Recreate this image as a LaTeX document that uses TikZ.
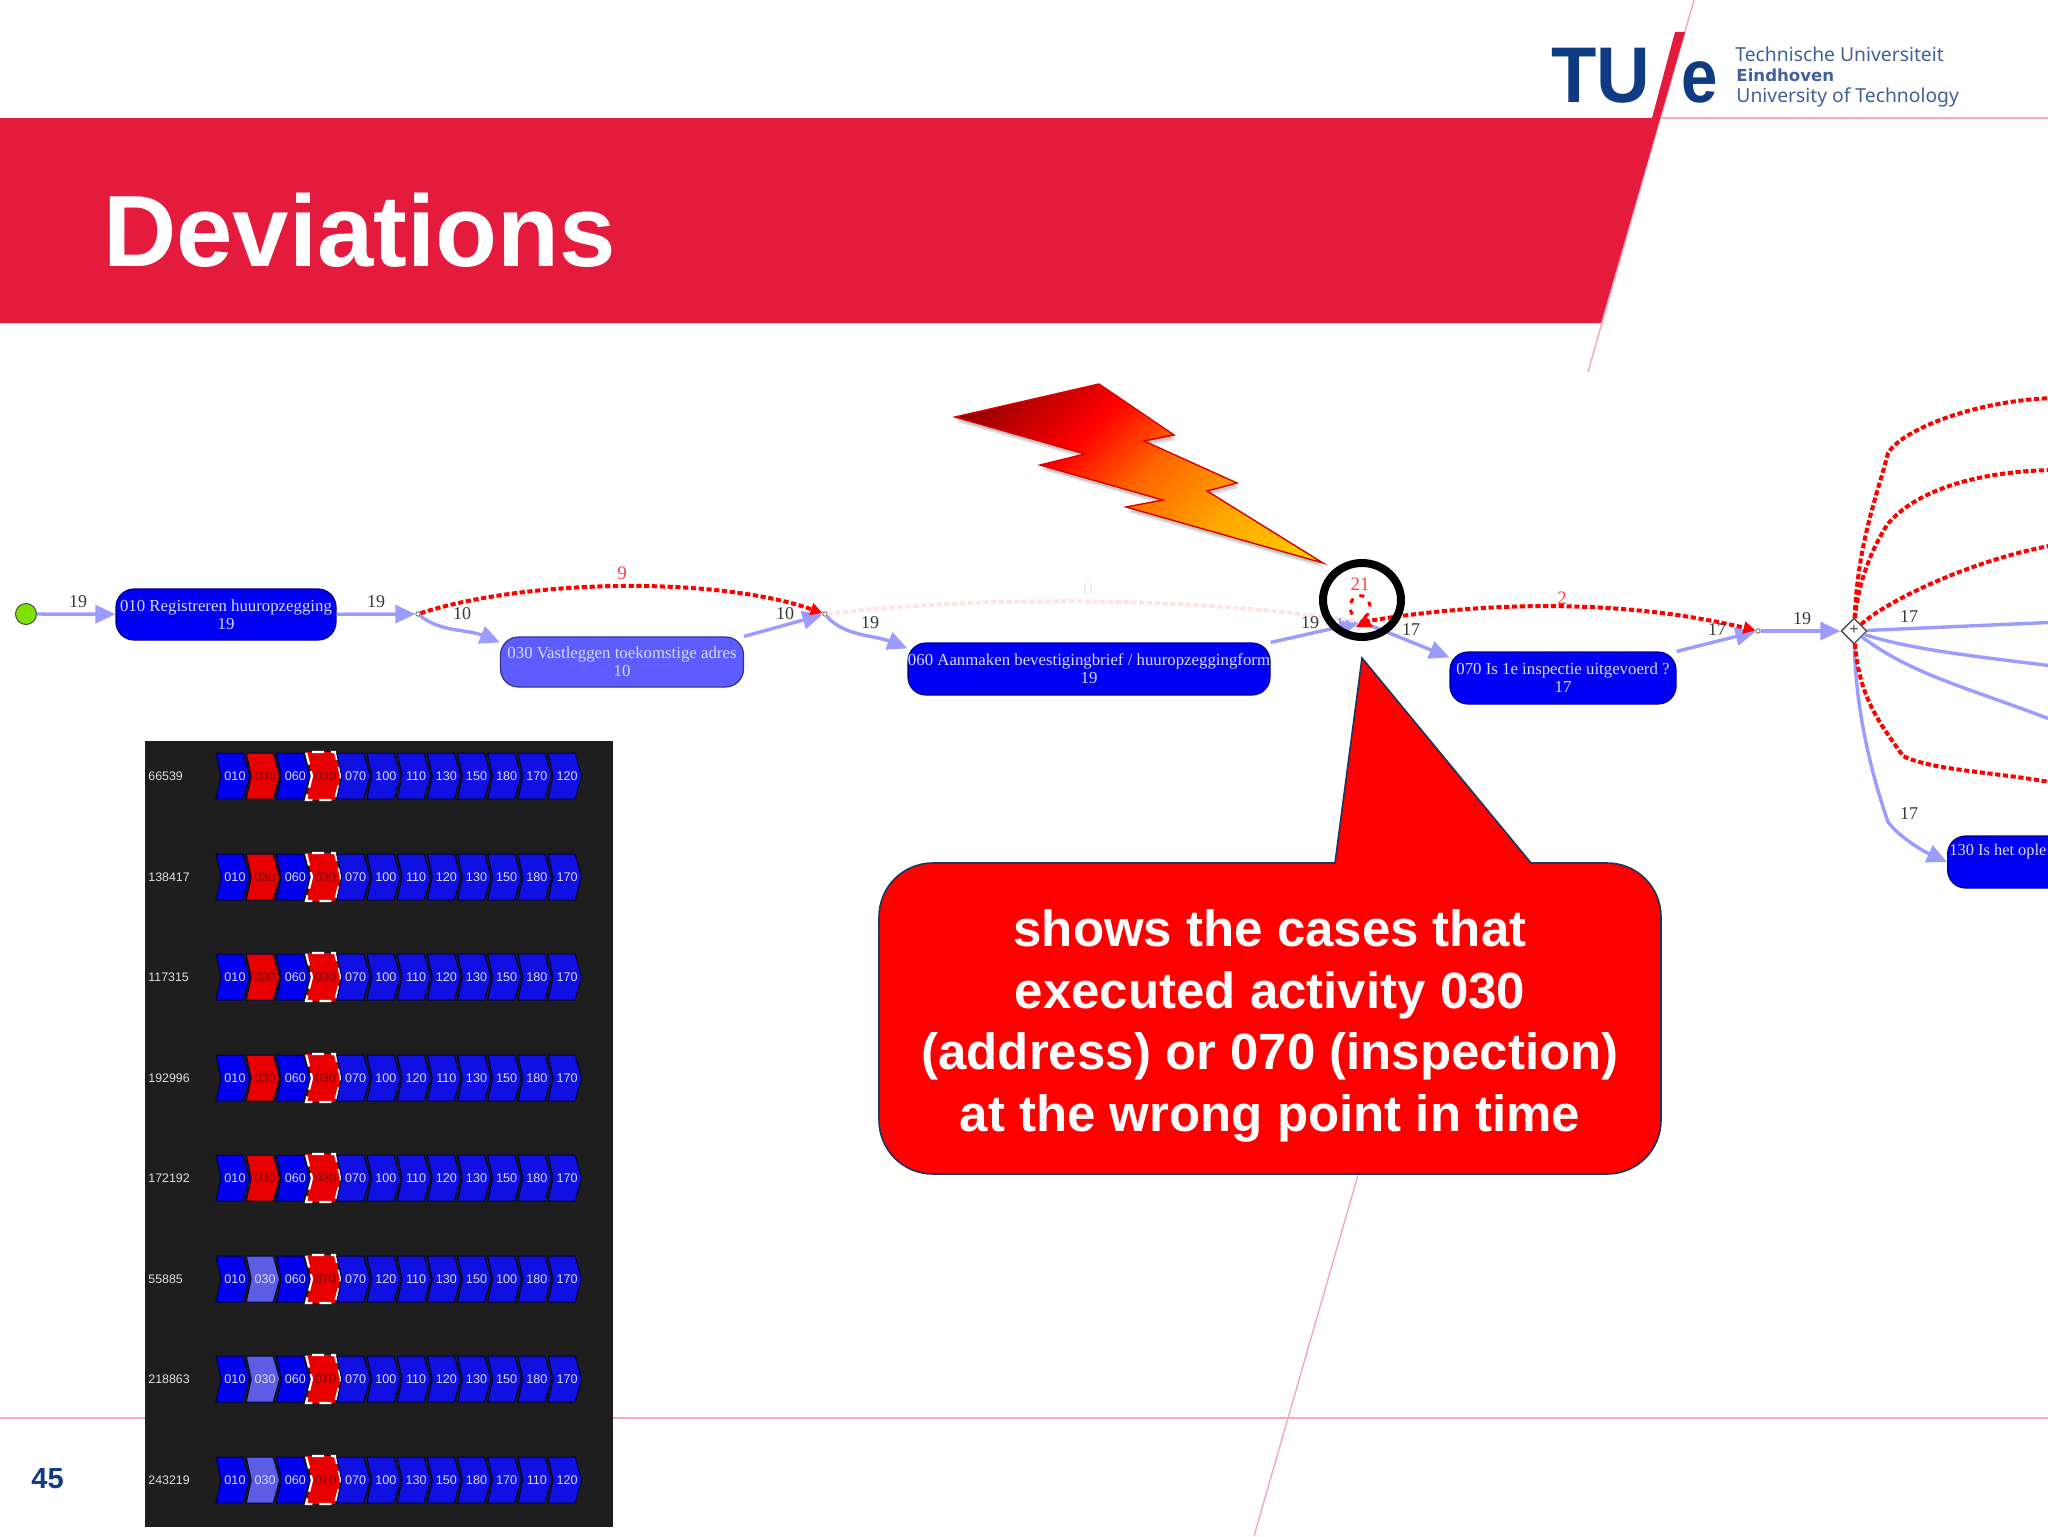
\documentclass[tikz,border=0pt]{standalone}
\usepackage{fontspec}
\setmainfont{Liberation Sans}
\newfontfamily\tms{Liberation Serif}
\newfontfamily\lgf{Noto Sans}
\newfontfamily\lgfb{DejaVu Sans}
\usetikzlibrary{arrows.meta,shapes.geometric}
\definecolor{tuered}{HTML}{E41B3C}
\definecolor{tuepink}{HTML}{F2A9B8}
\definecolor{tueblue}{HTML}{0F3B82}
\definecolor{tuetext}{HTML}{41609C}
\definecolor{edgeblue}{HTML}{9C9CFF}
\definecolor{nodeblue}{HTML}{0000F4}
\definecolor{nodelight}{HTML}{5C5CFF}
\definecolor{nodetext}{HTML}{DADAFF}
\definecolor{panel}{HTML}{1E1E1E}
\definecolor{chevA}{HTML}{0000EE}
\definecolor{chevB}{HTML}{1010E2}
\definecolor{chevL}{HTML}{5C5CE4}
\definecolor{chevR}{HTML}{E80000}
\definecolor{callred}{HTML}{FF0000}
\definecolor{callline}{HTML}{17375E}
\definecolor{fadered}{HTML}{FFE4E4}
\definecolor{startgreen}{HTML}{80E000}
\pgfdeclareverticalshading{boltshade}{100bp}{rgb(0bp)=(1,0.82,0); rgb(25bp)=(1,0.82,0); rgb(38.5bp)=(1,0.66,0); rgb(51bp)=(1,0.4,0); rgb(60.7bp)=(1,0,0); rgb(75bp)=(0.55,0,0); rgb(100bp)=(0.55,0,0)}
\tikzset{
  x=0.5pt,y=-0.5pt,
  procnode/.style={draw=#1!55!black,fill=#1,rounded corners=9pt,line width=.6pt,inner sep=0pt,text=nodetext,align=center,
     font=\tms\fontsize{8.4}{8.9}\selectfont},
  flowedge/.style={draw=edgeblue,line width=1.7pt,-{Triangle[length=10pt,width=9pt,fill=edgeblue]}},
  flowplain/.style={draw=edgeblue,line width=1.7pt},
  devedge/.style={draw=red,line width=2pt,dash pattern=on 2.6pt off 1.3pt},
  devarrow/.style={devedge,-{Triangle[length=6pt,width=6pt,fill=red]}},
  fadeedge/.style={draw=fadered,line width=2pt,dash pattern=on 2.6pt off 1.3pt},
  junct/.style={circle,draw=black!60,fill=white,inner sep=0pt,minimum size=2.2pt,line width=.4pt},
  elabel/.style={text=black!78,inner sep=0pt,font=\tms\fontsize{9}{9}\selectfont},
  rlabel/.style={text=red!75!white,inner sep=0pt,font=\tms\fontsize{9.5}{9.5}\selectfont},
  chevtext/.style={inner sep=0pt,font=\fontsize{6.3}{6.3}\selectfont,text=nodetext},
  chevredtext/.style={inner sep=0pt,font=\fontsize{6.3}{6.3}\selectfont,text=red!50!black},
  caselabel/.style={inner sep=0pt,anchor=west,font=\fontsize{6.2}{6.2}\selectfont,text=black!12},
  chevline/.style={draw=black!80!blue,line width=.5pt},
  tuepath/.style={draw=tuepink,line width=.7pt},
  logoline/.style={inner sep=0pt,anchor=base west,text=tuetext,font=\lgf\fontsize{9.65}{9.65}\selectfont}
}
\newcommand\chevshape{(-19,-23) -- (8,-23) -- (14.5,0) -- (8,23) -- (-19,23) -- (-14,0) -- cycle}
\newcommand\chevcell[5]{% cx, cy, fill, text style, label
  \begin{scope}[shift={(#1,#2)}]
    \path[chevline,fill=#3] \chevshape;
    \node[#4] (chevlab#5x#1) at (0,0) {#5};
  \end{scope}}
\newcommand\caserow[5]{% y, id, 2nd fill, 4th label, remaining labels
  \node[caselabel] (case#2) at (148,#1) {#2};
  \chevcell{235}{#1}{chevA}{chevtext}{010}
  \ifx#3r\chevcell{265.2}{#1}{chevR}{chevredtext}{030}\else\chevcell{265.2}{#1}{chevL}{chevtext}{030}\fi
  \chevcell{295.3}{#1}{chevA}{chevtext}{060}
  \begin{scope}[shift={(325.5,#1)}]
    \path[fill=chevR] (-19.5,-24) -- (9.5,-24) -- (15.5,0) -- (9.5,24) -- (-19.5,24) -- (-13.5,0) -- cycle;
    \draw[white,line width=1.1pt,dash pattern=on 6pt off 3.5pt] (-13.5,0) -- (-19.5,24) -- (9.5,24) -- (15.5,0) -- (9.5,-24) -- (-19.5,-24) -- cycle;
    \node[chevredtext] (red#2) at (0,0) {#4};
  \end{scope}
  \foreach \lab [count=\k from 0] in {#5}{
    \pgfmathsetmacro\cx{355.7+30.2*\k}
    \chevcell{\cx}{#1}{chevB}{chevtext}{\lab}
  }}
\begin{document}
\begin{tikzpicture}
\useasboundingbox (0,0) rectangle (2048,1536);
\clip (0,0) rectangle (2048,1536);
\fill[white] (0,0) rectangle (2048,1536);

% template lines
\draw[tuepath] (1660,118) -- (2048,118);
\draw[tuepath] (0,1418) -- (2048,1418);
\draw[tuepath] (1694,0) -- (1588,372);
\draw[tuepath] (1358,1175) -- (1254,1536);
% banner
\fill[tuered] (0,118) -- (1652,118) -- (1675,32) -- (1685,32) -- (1601,323) -- (0,323) -- cycle;
\node[anchor=base west,inner sep=0pt,text=white,font=\bfseries\fontsize{50.7}{50.7}\selectfont] (title) at (103,266) {Deviations};
% logo
\node[anchor=base west,inner sep=0pt,text=tueblue,xscale=.94,font=\bfseries\fontsize{39.5}{39.5}\selectfont] (tu) at (1551,103) {TU};
\node[anchor=base west,inner sep=0pt,text=tueblue,xscale=.86,font=\bfseries\fontsize{38}{38}\selectfont] (e) at (1681,103) {e};
\node[logoline] (l1) at (1735,62) {Technische Universiteit};
\node[logoline,font=\lgfb\bfseries\fontsize{8.3}{8.3}\selectfont] (l2) at (1736,82) {Eindhoven};
\node[logoline] (l3) at (1736,103) {University of Technology};
\node[anchor=base west,inner sep=0pt,text=tueblue,font=\bfseries\fontsize{14.5}{14.5}\selectfont] (pageno) at (31,1488) {45};

% bolt
\newcommand\boltshape{(955,417) -- (1099,384) -- (1174,435) -- (1144,441) -- (1237,483) -- (1207,491) -- (1323,563) -- (1126,507) -- (1163,500) -- (1040,465) -- (1085,454) -- cycle}
\fill[black,opacity=.12,shift={(2,5)}] \boltshape;
\fill[black,opacity=.12,shift={(1,3)}] \boltshape;
\begin{scope}
  \clip \boltshape;
  \shade[shading=boltshade,shading angle=45] (957,308) rectangle (1321,672);
\end{scope}
\draw[red!85!black,line width=.7pt] \boltshape;

% process nodes
\node[circle,draw=black!70,fill=startgreen,minimum size=10.5pt,inner sep=0pt,line width=.5pt] (start) at (26,614) {};
\node[procnode=nodeblue,minimum width=110pt,minimum height=25.5pt] (n010) at (226,614.5) {010 Registreren huuropzegging\\19};
\node[procnode=nodelight,minimum width=121.5pt,minimum height=25pt] (n030) at (622,662) {030 Vastleggen toekomstige adres\\10};
\node[procnode=nodeblue,minimum width=180.5pt,minimum height=26pt] (n060) at (1089,669) {060 Aanmaken bevestigingbrief / huuropzeggingform\\19};
\node[procnode=nodeblue,minimum width=113pt,minimum height=26pt] (n070) at (1563,678) {070 Is 1e inspectie uitgevoerd ?\\17};
\node[procnode=nodeblue,minimum width=100pt,minimum height=26pt,anchor=west] (n130) at (1947,862) {};
\node[inner sep=0pt,anchor=west,text=nodetext,font=\tms\fontsize{8.2}{8.9}\selectfont] (n130text) at (1949,852) {130 Is het ople};
\node[junct] (j1) at (418,614) {};
\node[junct] (j2) at (825,614) {};
\node[junct] (j3) at (1362,622) {};
\node[junct] (j4) at (1758,631) {};
\node[diamond,draw=black!70,fill=white,minimum size=13pt,inner sep=0pt,line width=.7pt] (gate) at (1854,631) {};
\node[inner sep=0pt,font=\fontsize{8}{8}\selectfont,text=black!70] (gateplus) at (1854,630) {+};

% off-page ends
\coordinate (o1) at (2060,398);
\coordinate (o2) at (2060,470);
\coordinate (o3) at (2060,544);
\coordinate (o4) at (2060,622);
\coordinate (o5) at (2060,667);
\coordinate (o6) at (2060,723);
\coordinate (o7) at (2060,784);

% connectors
\draw[flowedge] (start) -- (n010);
\draw[flowedge] (n010) -- (j1);
\draw[flowedge] (j1) .. controls +(22,18) and +(-32,-13) .. ([yshift=-3pt]n030.north west);
\draw[flowedge] (n030.north east) -- (j2);
\draw[flowedge] (j2) .. controls +(18,22) and +(-32,-13) .. ([yshift=-3pt]n060.north west);
\draw[flowedge] (n060.north east) -- (j3);
\draw[flowedge] (j3) -- ([yshift=-3pt]n070.north west);
\draw[flowedge] (n070.north east) -- (j4);
\draw[flowedge] (j4) -- (gate);
\draw[fadeedge] (j2) .. controls +(170,-19) and +(-170,-25) .. (j3);
\draw[devarrow] (j1) .. controls +(112,-36) and +(-105,-37) .. (j2);
\draw[devarrow] (j3) .. controls +(130,-22) and +(-130,-31) .. (j4);
\draw[red,line width=1.5pt,dash pattern=on 2.5pt off 3.5pt] (1365,617) arc[start angle=60,end angle=-250,x radius=10,y radius=11.5];
\fill[red] (1365,615) -- (1373,627) -- (1356,627) -- cycle;
\draw[flowplain] (gate) -- (o4);
\draw[flowplain] (gate) .. controls +(60,20) and +(-60,-8) .. (o5);
\draw[flowplain] (gate) .. controls +(60,45) and +(-90,-35) .. (o6);
\draw[flowedge] (gate) .. controls +(2,90) and +(-12,-35) .. (1888,822) .. controls +(12,16) and +(-22,-10) .. (n130.west);
\draw[devedge] (gate) .. controls +(4,-90) and +(-10,40) .. (1888,453) .. controls +(18,-28) and +(-70,0) .. (o1);
\draw[devedge] (gate) .. controls +(4,-50) and +(-14,22) .. (1887,525) .. controls +(28,-35) and +(-80,0) .. (o2);
\draw[devedge] (gate) .. controls +(30,-28) and +(-90,15) .. (o3);
\draw[devedge] (gate) .. controls +(5,65) and +(-25,-35) .. (1903,756) .. controls +(30,15) and +(-60,-12) .. (o7);

% edge labels
\node[elabel] (e1) at (78,602) {19};
\node[elabel] (e2) at (376,602) {19};
\node[elabel] (e3) at (462,614) {10};
\node[rlabel] (e4) at (622,573) {9};
\node[elabel] (e5) at (785,614) {10};
\node[elabel] (e6) at (870,623) {19};
\node[rlabel,text=fadered] (e7) at (1088,589) {0};
\node[elabel] (e8) at (1310,623) {19};
\node[rlabel] (e9) at (1360,584) {21};
\node[elabel] (e10) at (1411,630) {17};
\node[rlabel] (e11) at (1562,598) {2};
\node[elabel] (e12) at (1717,630) {17};
\node[elabel] (e13) at (1802,619) {19};
\node[elabel] (e14) at (1909,617) {17};
\node[elabel] (e15) at (1909,814) {17};

% highlight ring
\draw[black,line width=4pt] (1362,600) ellipse [x radius=39,y radius=37];

% callout
\path[draw=callline,line width=.8pt,fill=callred]
  (933,863) -- (1335,863) -- (1362,658) -- (1531,863) -- (1607,863)
  .. controls (1637,863) and (1661,887) .. (1661,917) -- (1661,1120)
  .. controls (1661,1150) and (1637,1174) .. (1607,1174) -- (933,1174)
  .. controls (903,1174) and (879,1150) .. (879,1120) -- (879,917)
  .. controls (879,887) and (903,863) .. (933,863) -- cycle;
\node[inner sep=0pt,text=white,align=center,font=\bfseries\fontsize{25.5}{30.7}\selectfont] (calltext) at (1270,1026)
  {shows the cases that\\executed activity 030\\(address) or 070 (inspection)\\at the wrong point in time};

% trace panel
\fill[panel] (145,741) rectangle (613,1527);
\caserow{776}{66539}{r}{030}{070,100,110,130,150,180,170,120}
\caserow{877}{138417}{r}{030}{070,100,110,120,130,150,180,170}
\caserow{977}{117315}{r}{030}{070,100,110,120,130,150,180,170}
\caserow{1078}{192996}{r}{030}{070,100,120,110,130,150,180,170}
\caserow{1178}{172192}{r}{030}{070,100,110,120,130,150,180,170}
\caserow{1279}{55885}{l}{070}{070,120,110,130,150,100,180,170}
\caserow{1379}{218863}{l}{070}{070,100,110,120,130,150,180,170}
\caserow{1480}{243219}{l}{070}{070,100,130,150,180,170,110,120}
\end{tikzpicture}
\end{document}
